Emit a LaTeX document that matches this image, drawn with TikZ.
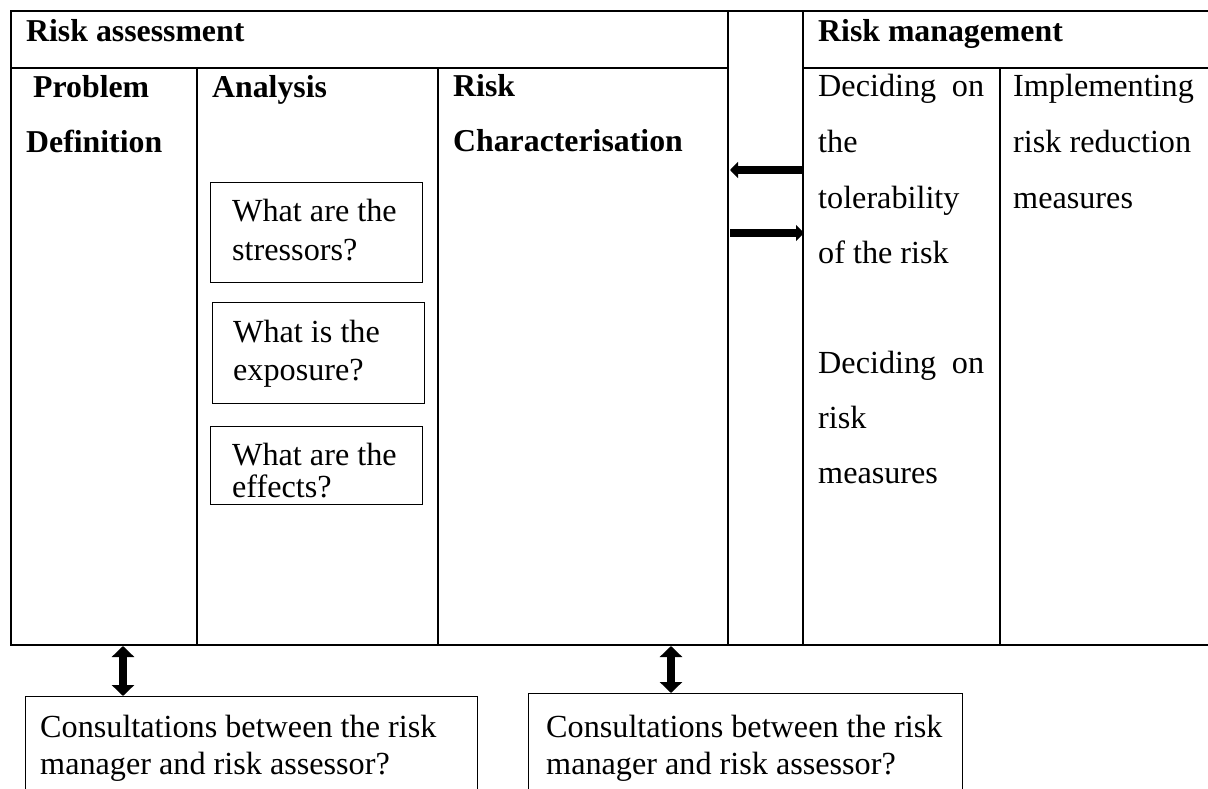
\documentclass[tikz,border=0pt]{standalone}
\usepackage{fontspec}
\setmainfont{Liberation Serif}
\usetikzlibrary{arrows.meta}
\begin{document}
\begin{tikzpicture}[x=1pt,y=-1pt,
  gridline/.style={line width=2pt, line cap=rect},
  ibox/.style={draw, line width=1.4pt, anchor=north west, inner sep=0pt},
  lbl/.style={anchor=base west, inner sep=0pt, font=\fontsize{32.2}{38}\selectfont},
  blbl/.style={anchor=base west, inner sep=0pt, font=\fontsize{31.8}{38}\selectfont\bfseries},
  harrow/.style={line width=8pt, -{Triangle[length=8pt,width=16pt]}},
  varrow/.style={line width=8pt, {Triangle[length=11pt,width=22pt]}-{Triangle[length=11pt,width=22pt]}}]
\useasboundingbox (0,0) rectangle (1208,789);
\clip (0,0) rectangle (1208,789);
% table grid
\draw[gridline] (1212,11) -- (11,11) -- (11,645) -- (1212,645);
\draw[gridline] (11,68) -- (728,68);
\draw[gridline] (803,68) -- (1212,68);
\draw[gridline] (197,68) -- (197,645);
\draw[gridline] (438,68) -- (438,645);
\draw[gridline] (728,11) -- (728,645);
\draw[gridline] (803,11) -- (803,645);
\draw[gridline] (1000,68) -- (1000,645);
% headers
\node[blbl] (ra) at (26,42) {Risk assessment};
\node[blbl] (rm) at (818,42) {Risk management};
\node[blbl] (pd1) at (33,98) {Problem};
\node[blbl] (pd2) at (26,153) {Definition};
\node[blbl] (an) at (212,98) {Analysis};
\node[blbl] (rc1) at (453,97) {Risk};
\node[blbl] (rc2) at (453,152) {Characterisation};
% analysis boxes
\node[ibox, minimum width=212pt, minimum height=100pt] (q1) at (210,182) {};
\node[lbl] (q1a) at (232,222) {What are the};
\node[lbl] (q1b) at (232,260) {stressors?};
\node[ibox, minimum width=212pt, minimum height=101pt] (q2) at (212,302) {};
\node[lbl] (q2a) at (233,342) {What is the};
\node[lbl] (q2b) at (233,380) {exposure?};
\node[ibox, minimum width=212pt, minimum height=78pt] (q3) at (210,426) {};
\node[lbl] (q3a) at (232,465) {What are the};
\node[lbl] (q3b) at (232,497) {effects?};
% management column
\node[lbl] (m1) at (818,97) {\hbox to 166pt{Deciding\hfill on}};
\node[lbl] (m2) at (818,153) {the};
\node[lbl] (m3) at (818,208) {tolerability};
\node[lbl] (m4) at (818,263) {of the risk};
\node[lbl] (m5) at (818,373) {\hbox to 166pt{Deciding\hfill on}};
\node[lbl] (m6) at (818,428) {risk};
\node[lbl] (m7) at (818,483) {measures};
\node[lbl] (i1) at (1013,97) {Implementing};
\node[lbl] (i2) at (1013,153) {risk reduction};
\node[lbl] (i3) at (1013,208) {measures};
% horizontal arrows
\coordinate (la1) at (802,170);
\coordinate (la2) at (730,170);
\coordinate (ra1) at (730,233);
\coordinate (ra2) at (804,233);
\draw[harrow] (la1) -- (la2);
\draw[harrow] (ra1) -- (ra2);
% bottom boxes
\node[ibox, minimum width=452pt, minimum height=120pt] (c1) at (25,696) {};
\node[lbl] (c1a) at (40,737) {Consultations between the risk};
\node[lbl] (c1b) at (40,774) {manager and risk assessor?};
\node[ibox, minimum width=434pt, minimum height=120pt] (c2) at (528,693) {};
\node[lbl] (c2a) at (546,737) {Consultations between the risk};
\node[lbl] (c2b) at (546,774) {manager and risk assessor?};
% vertical double arrows
\coordinate (v1) at (123,646);
\coordinate (v2) at (671,646);
\draw[varrow] (v1) -- (v1 |- c1.north);
\draw[varrow] (v2) -- (v2 |- c2.north);
\end{tikzpicture}
\end{document}
